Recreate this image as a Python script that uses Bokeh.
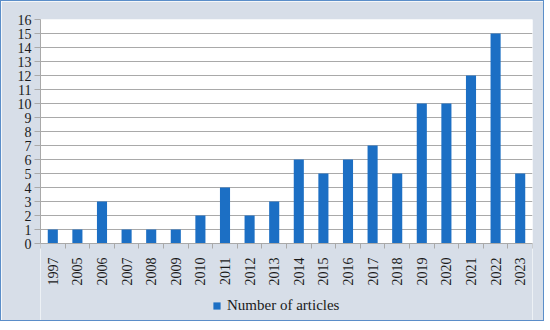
from bokeh.plotting import figure
from bokeh.models import Range1d, FixedTicker, Legend, LegendItem, BoxAnnotation
from bokeh.embed import file_html
from bokeh.resources import INLINE
import math

years = ["1997", "2005", "2006", "2007", "2008", "2009", "2010", "2011", "2012", "2013",
         "2014", "2015", "2016", "2017", "2018", "2019", "2020", "2021", "2022", "2023"]
articles = [1, 1, 3, 1, 1, 1, 2, 4, 2, 3, 6, 5, 6, 7, 5, 10, 10, 12, 15, 5]
y_ticks = list(range(0, 17))
series_name = "Number of articles"

FONT = "Liberation Serif"
BG = "#d7dee8"
GRID = "#a9a9a9"
BAR = "#1c6fc4"
TXT = "#1a1a1a"

n = len(years)
centers = [i + 0.5 for i in range(n)]
bounds = list(range(n + 1))
y_max = 16
y_low = -5.64  # room below zero for the year labels and legend

p = figure(width=544, height=321, output_backend="svg", toolbar_location=None,
           x_range=Range1d(0, n), y_range=Range1d(y_low, y_max),
           min_border_left=39, min_border_right=13, min_border_top=18, min_border_bottom=0)
p.styles = {"border": "1px solid #5b8ec9"}
p.background_fill_color = "white"
p.border_fill_color = BG
p.outline_line_color = None

# area below zero in the chart background colour
p.add_layout(BoxAnnotation(top=0, fill_color=BG, fill_alpha=1, line_color=None, level="underlay"))

r = p.vbar(x=centers, top=articles, width=0.41, fill_color=BAR, line_color=None)

# y axis
p.yaxis.ticker = FixedTicker(ticks=y_ticks)
p.yaxis.bounds = (0, y_max)
p.yaxis.axis_line_color = GRID
p.yaxis.major_tick_line_color = GRID
p.yaxis.major_tick_out = 6
p.yaxis.major_tick_in = 0
p.yaxis.minor_tick_line_color = None
p.yaxis.major_label_text_font = FONT
p.yaxis.major_label_text_font_size = "14px"
p.yaxis.major_label_text_color = TXT
p.yaxis.major_label_standoff = 3

# x axis: labels at centers, ticks at boundaries, sitting on y = 0
p.xaxis.fixed_location = 0
p.xaxis.ticker = FixedTicker(ticks=centers, minor_ticks=bounds)
p.xaxis.major_label_overrides = {c: y for c, y in zip(centers, years)}
p.xaxis.major_tick_line_color = None
p.xaxis.minor_tick_line_color = GRID
p.xaxis.minor_tick_out = 5
p.xaxis.minor_tick_in = 0
p.xaxis.axis_line_color = GRID
p.xaxis.major_label_orientation = math.pi / 2
p.xaxis.major_label_text_font = FONT
p.xaxis.major_label_text_font_size = "14px"
p.xaxis.major_label_text_color = TXT
p.xaxis.major_label_standoff = 8

p.xgrid.grid_line_color = None
p.ygrid.ticker = FixedTicker(ticks=y_ticks)
p.ygrid.grid_line_color = GRID
p.ygrid.grid_line_width = 1

legend = Legend(items=[LegendItem(label=series_name, renderers=[r])],
                location=(172, 8), orientation="horizontal",
                background_fill_alpha=0, border_line_color=None,
                label_text_font=FONT, label_text_font_size="15px", label_text_color=TXT,
                glyph_width=9, glyph_height=9, label_standoff=6,
                padding=2, margin=0)
p.add_layout(legend)

open("out.html", "w").write(file_html(p, INLINE))
